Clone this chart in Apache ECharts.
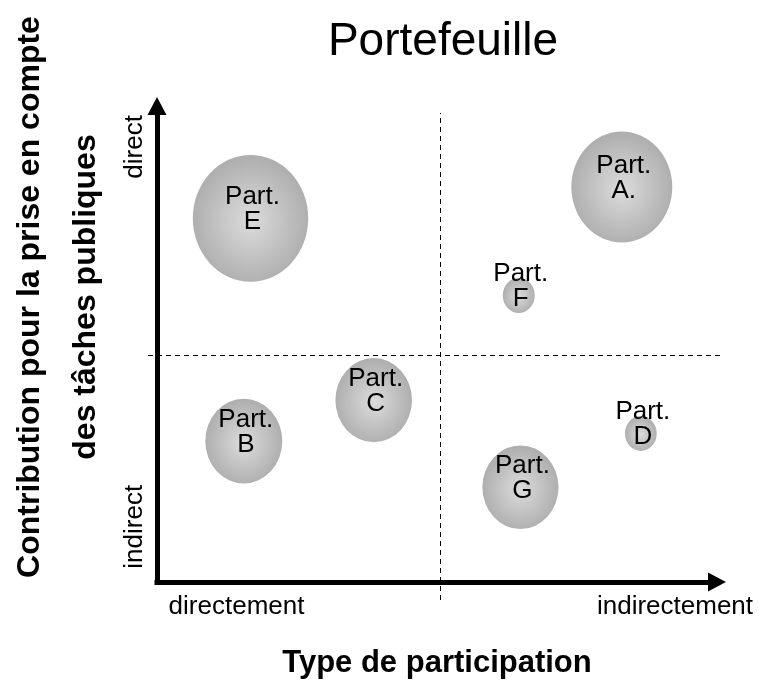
<!DOCTYPE html>
<html><head><meta charset="utf-8">
<script src="https://cdn.jsdelivr.net/npm/echarts@6/dist/echarts.min.js"></script>
<style>html,body{margin:0;padding:0;background:#fff}#c{width:763px;height:680px}</style>
</head><body><div id="c"></div>
<script>
// ---- data ----
const names = ['A.', 'B', 'C', 'D', 'E', 'F', 'G'];
const xValues = [83.0, 15.5, 38.7, 86.4, 16.7, 64.6, 64.9];
const yValues = [83.0, 29.6, 38.2, 31.2, 76.4, 60.2, 19.9];
const bubbleSizes = [105.8, 80.8, 80.3, 33.3, 121, 33.5, 79.8];
const xTickValues = [14.2, 92.5];
const xTickLabels = ['directement', 'indirectement'];
const yTickValues = [11.6, 91.4];
const yTickLabels = ['indirect', 'direct'];
const quadrantX = 50.5;
const quadrantY = 47.8;
const titleText = 'Portefeuille';
const xAxisTitle = 'Type de participation';
const yAxisTitle = 'Contribution pour la prise en compte\ndes tâches publiques';

// ---- chart ----
const FONT = "'Liberation Sans', Arial, sans-serif";
const ASP = Math.sqrt(1.1);
const chart = echarts.init(document.getElementById('c'), null, {renderer: 'canvas'});
const axisLineStyle = {color: '#000', width: 5, cap: 'square'};

chart.setOption({
  animation: false,
  backgroundColor: '#fff',
  title: {
    text: titleText, left: 438, textAlign: 'center', top: 14,
    textStyle: {fontSize: 46, fontWeight: 'normal', color: '#000', fontFamily: FONT}
  },
  grid: [
    {left: 157, right: 46, top: 106, bottom: 98, containLabel: false, outerBoundsMode: 'none'},
    {left: 148, right: 40, top: 113, bottom: 80, containLabel: false, outerBoundsMode: 'none'}
  ],
  xAxis: [
    {
      type: 'value', gridIndex: 0, min: 0, max: 100,
      axisLine: {show: true, onZero: false, lineStyle: axisLineStyle, symbol: ['none', 'triangle'], symbolSize: [19, 18]},
      axisTick: {show: false}, splitLine: {show: false},
      axisLabel: {
        customValues: xTickValues,
        formatter: v => xTickLabels[xTickValues.indexOf(v)],
        fontSize: 26, margin: 12, color: '#000', fontFamily: FONT
      },
      name: xAxisTitle, nameLocation: 'middle', nameGap: 66,
      nameTextStyle: {fontSize: 31, fontWeight: 'bold', color: '#000', fontFamily: FONT}
    },
    {type: 'value', gridIndex: 1, min: -1.607, max: 101.07, show: false}
  ],
  yAxis: [
    {
      type: 'value', gridIndex: 0, min: 0, max: 100,
      axisLine: {show: true, onZero: false, lineStyle: axisLineStyle, symbol: ['none', 'triangle'], symbolSize: [19, 18]},
      axisTick: {show: false}, splitLine: {show: false},
      axisLabel: {
        customValues: yTickValues,
        formatter: v => yTickLabels[yTickValues.indexOf(v)],
        rotate: 90, fontSize: 26, margin: 9, color: '#000', fontFamily: FONT
      },
      name: yAxisTitle, nameLocation: 'middle', nameRotate: 90, nameGap: 43,
      nameTextStyle: {fontSize: 32, fontWeight: 'bold', color: '#000', fontFamily: FONT,
        lineHeight: 56, padding: [0, 0, 0, 94], align: 'center'}
    },
    {type: 'value', gridIndex: 1, min: -3.79, max: 98.74, show: false}
  ],
  series: [
    {
      type: 'scatter', xAxisIndex: 1, yAxisIndex: 1, data: [], silent: true,
      markLine: {
        silent: true, symbol: 'none', animation: false,
        label: {show: false},
        lineStyle: {color: '#000', type: [5, 4], width: 1},
        emphasis: {disabled: true},
        data: [{xAxis: quadrantX}, {yAxis: quadrantY}]
      }
    },
    {
      type: 'scatter', xAxisIndex: 0, yAxisIndex: 0,
      data: names.map((n, i) => [xValues[i], yValues[i], bubbleSizes[i], n]),
      symbol: 'circle',
      symbolSize: v => [v[2] / ASP, v[2] * ASP],
      itemStyle: {
        opacity: 1,
        color: new echarts.graphic.RadialGradient(0.5, 0.52, 0.5, [
          {offset: 0, color: '#dcdcdc'},
          {offset: 1, color: '#afafaf'}
        ])
      },
      label: {
        show: true, position: 'inside', formatter: p => 'Part.\n' + p.value[3],
        fontSize: 26, lineHeight: 25, color: '#000', fontFamily: FONT, offset: [2, -9]
      },
      emphasis: {disabled: true},
      z: 3
    }
  ]
});
</script>
</body></html>
